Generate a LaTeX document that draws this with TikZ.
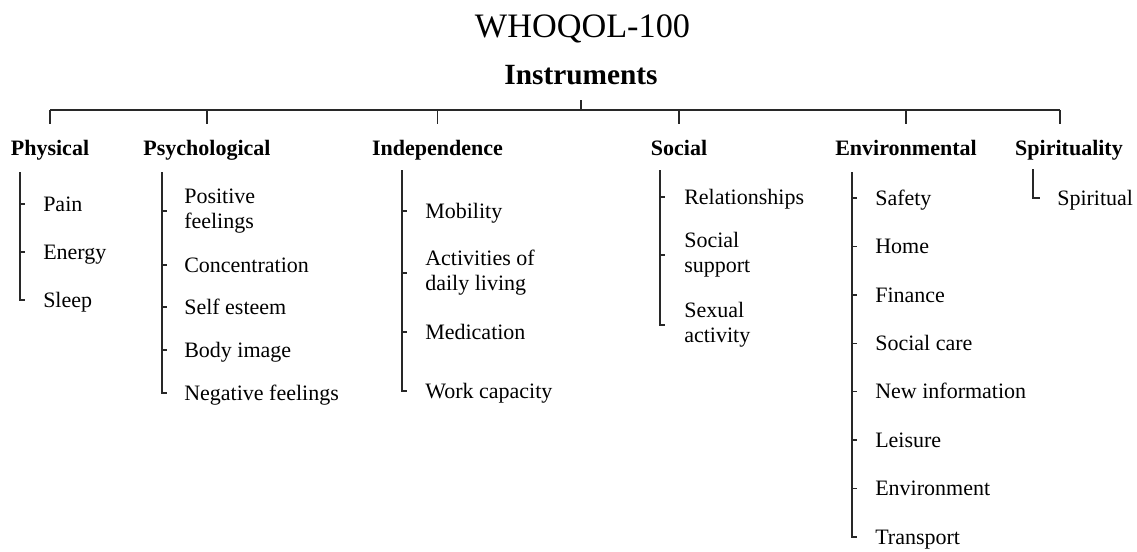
\documentclass[tikz,border=0pt]{standalone}
\usepackage{fontspec}
\setmainfont{Liberation Serif}
\usetikzlibrary{calc}

\tikzset{
  ttl/.style={anchor=base,inner sep=0.75pt,font=\rmfamily\fontsize{25.7}{30}\selectfont},
  root/.style={anchor=base,inner sep=0.75pt,font=\rmfamily\bfseries\fontsize{22}{26}\selectfont},
  head/.style={anchor=base,inner sep=0.75pt,font=\rmfamily\bfseries\fontsize{16.5}{19}\selectfont},
  item/.style={anchor=west,inner sep=0.75pt,text height=10.9pt,text depth=0pt,font=\rmfamily\fontsize{16.5}{18.75}\selectfont},
  item2/.style={anchor=west,inner sep=0.75pt,align=left,font=\rmfamily\fontsize{16.5}{18.75}\selectfont},
  wire/.style={draw={rgb,255:red,40;green,40;blue,40},line width=1.1pt},
}

\begin{document}
\begin{tikzpicture}[x=0.75pt,y=0.75pt,yscale=-1,xscale=1]
\useasboundingbox (0,0) rectangle (1137,551);

% Title
\node [ttl] (title) at (582.5,37) {WHOQOL-100};
\node [root] (inst) at (581,84) {Instruments};

% Headings
\node [head] (phys) at (50,155) {Physical};
\node [head] (psy) at (207,155) {Psychological};
\node [head] (ind) at (437.5,155) {Independence};
\node [head] (soc) at (679,155) {Social};
\node [head] (env) at (906,155) {Environmental};
\node [head] (spi) at (1069,155) {Spirituality};

% Bar and ticks
\coordinate (barL) at (50,110);
\coordinate (barR) at (1060,110);
\draw [wire] (barL) -- (barR);
\draw [wire] (inst |- barL) -- ++(0,-10);
\draw [wire] (barL) -- ++(0,14);
\draw [wire] (psy |- barL) -- ++(0,14);
\draw [wire] (ind |- barL) -- ++(0,14);
\draw [wire] (soc |- barL) -- ++(0,14);
\draw [wire] (env |- barL) -- ++(0,14);
\draw [wire] (barR) -- ++(0,14);

% Physical
\coordinate (physTop) at (20,172);
\node [item] (pain) at (42,204) {Pain};
\node [item] (energy) at (42,252) {Energy};
\node [item] (sleep) at (42,300) {Sleep};
\draw [wire] (physTop) |- ($(physTop |- sleep.west)+(5,0)$);
\draw [wire] (physTop |- pain.west) -- ++(5,0);
\draw [wire] (physTop |- energy.west) -- ++(5,0);

% Psychological
\coordinate (psyTop) at (162,172);
\node [item2] (posf) at (183,211) {Positive\\feelings};
\node [item] (conc) at (183,265) {Concentration};
\node [item] (selfe) at (183,307) {Self esteem};
\node [item] (body) at (183,350) {Body image};
\node [item] (negf) at (183,393) {Negative feelings};
\draw [wire] (psyTop) |- ($(psyTop |- negf.west)+(5,0)$);
\draw [wire] (psyTop |- posf.west) -- ++(5,0);
\draw [wire] (psyTop |- conc.west) -- ++(5,0);
\draw [wire] (psyTop |- selfe.west) -- ++(5,0);
\draw [wire] (psyTop |- body.west) -- ++(5,0);

% Independence
\coordinate (indTop) at (402,170);
\node [item] (mob) at (424,211) {Mobility};
\node [item2] (adl) at (424,273) {Activities of\\daily living};
\node [item] (med) at (424,332) {Medication};
\node [item] (work) at (424,391) {Work capacity};
\draw [wire] (indTop) |- ($(indTop |- work.west)+(5,0)$);
\draw [wire] (indTop |- mob.west) -- ++(5,0);
\draw [wire] (indTop |- adl.west) -- ++(5,0);
\draw [wire] (indTop |- med.west) -- ++(5,0);

% Social
\coordinate (socTop) at (660,170);
\node [item] (rel) at (683,197) {Relationships};
\node [item2] (supp) at (683,255) {Social\\support};
\node [item2] (sex) at (683,325) {Sexual\\activity};
\draw [wire] (socTop) |- ($(socTop |- sex.west)+(5,0)$);
\draw [wire] (socTop |- rel.west) -- ++(5,0);
\draw [wire] (socTop |- supp.west) -- ++(5,0);

% Environmental
\coordinate (envTop) at (852,172);
\node [item] (safe) at (874,198) {Safety};
\node [item] (home) at (874,246.4) {Home};
\node [item] (fin) at (874,294.9) {Finance};
\node [item] (care) at (874,343.3) {Social care};
\node [item] (info) at (874,391.7) {New information};
\node [item] (leis) at (874,440.1) {Leisure};
\node [item] (envi) at (874,488.6) {Environment};
\node [item] (trans) at (874,537) {Transport};
\draw [wire] (envTop) |- ($(envTop |- trans.west)+(5,0)$);
\draw [wire] (envTop |- safe.west) -- ++(5,0);
\draw [wire] (envTop |- home.west) -- ++(5,0);
\draw [wire] (envTop |- fin.west) -- ++(5,0);
\draw [wire] (envTop |- care.west) -- ++(5,0);
\draw [wire] (envTop |- info.west) -- ++(5,0);
\draw [wire] (envTop |- leis.west) -- ++(5,0);
\draw [wire] (envTop |- envi.west) -- ++(5,0);

% Spirituality
\coordinate (spiTop) at (1033,169);
\node [item] (spir) at (1056,198) {Spiritual};
\draw [wire] (spiTop) |- ($(spiTop |- spir.west)+(7,0)$);

\end{tikzpicture}
\end{document}
